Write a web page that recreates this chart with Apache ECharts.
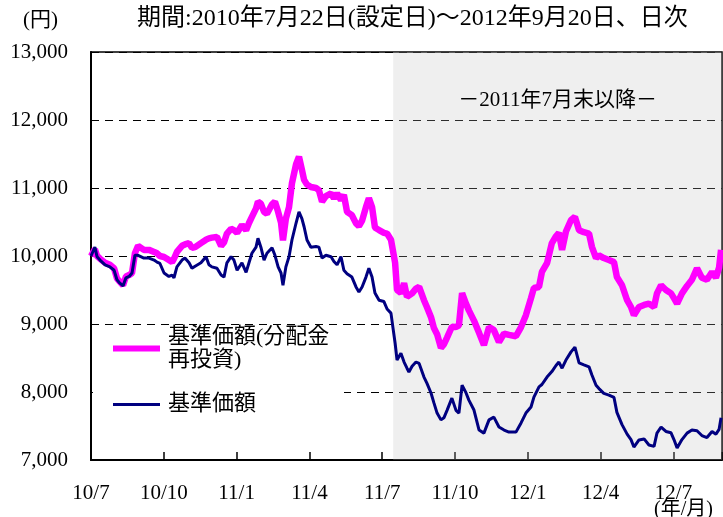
<!DOCTYPE html>
<html>
<head>
	<meta charset="utf-8">
	<title>基準価額の推移</title>
	<style type="text/css">
		html, body { margin: 0; padding: 0; background: #fff; }
		#chart { width: 723px; height: 517px; }
	</style>
</head>
<body>
	<div id="chart"></div>
	<script src="https://cdn.jsdelivr.net/npm/echarts@6.0.0/dist/echarts.min.js"></script>
	<script type="text/javascript">
	// months since 2010-07-22 (設定日)
	const MONTHS = [0, 0.16, 0.25, 0.37, 0.58, 0.78, 0.95, 1.07, 1.19, 1.32, 1.44, 1.57, 1.69, 1.81, 1.94, 2.18, 2.39, 2.60, 2.72, 2.84,
		3.01, 3.21, 3.34, 3.42, 3.54, 3.75, 3.87, 4.04, 4.16, 4.29, 4.37, 4.53, 4.74, 4.86, 4.98, 5.19, 5.36, 5.48, 5.60, 5.77,
		5.89, 6.02, 6.22, 6.39, 6.51, 6.63, 6.80, 6.88, 7.00, 7.13, 7.25, 7.46, 7.58, 7.71, 7.83, 7.91, 8.03, 8.16, 8.28, 8.45,
		8.57, 8.69, 8.78, 8.90, 9.06, 9.27, 9.39, 9.52, 9.68, 9.89, 10.01, 10.14, 10.30, 10.42, 10.55, 10.75, 10.92, 11.04, 11.17, 11.33,
		11.45, 11.58, 11.70, 11.87, 12.07, 12.20, 12.36, 12.44, 12.53, 12.61, 12.77, 12.90, 13.02, 13.10, 13.23, 13.39, 13.52, 13.72, 13.84, 14.01,
		14.13, 14.26, 14.42, 14.54, 14.67, 14.87, 15.04, 15.16, 15.29, 15.45, 15.57, 15.78, 15.99, 16.19, 16.40, 16.60, 16.81, 17.02, 17.22, 17.51,
		17.72, 17.92, 18.13, 18.25, 18.46, 18.58, 18.79, 18.99, 19.16, 19.28, 19.41, 19.57, 19.78, 19.94, 20.11, 20.31, 20.52, 20.64, 20.81, 20.93,
		21.13, 21.34, 21.55, 21.67, 21.88, 22.09, 22.25, 22.37, 22.58, 22.79, 22.99, 23.20, 23.32, 23.49, 23.69, 23.90, 24.02, 24.15, 24.35, 24.56,
		24.76, 24.97, 25.17, 25.38, 25.59, 25.75, 25.88, 25.96];

	// 基準価額(分配金再投資)
	const NAV_REINVESTED = [10000, 10100, 10000, 9960, 9900, 9870, 9820, 9670, 9620, 9570, 9700, 9720, 9750, 10040, 10150, 10090, 10090, 10060, 10040, 10000,
		9985, 9940, 9910, 9960, 10060, 10150, 10170, 10190, 10120, 10130, 10150, 10190, 10240, 10260, 10270, 10280, 10150, 10200, 10330, 10400,
		10380, 10340, 10455, 10380, 10485, 10575, 10700, 10800, 10770, 10650, 10620, 10760, 10800, 10650, 10490, 10230, 10550, 10720, 11070, 11350,
		11460, 11270, 11120, 11050, 11015, 11000, 10970, 10800, 10880, 10920, 10850, 10920, 10820, 10900, 10650, 10600, 10480, 10440, 10520, 10720,
		10850, 10720, 10420, 10380, 10340, 10330, 10240, 10220, 9900, 9500, 9455, 9600, 9400, 9380, 9450, 9520, 9545, 9350, 9250, 9100,
		8940, 8850, 8650, 8700, 8800, 8960, 8955, 8980, 9455, 9300, 9200, 9050, 8870, 8690, 8955, 8910, 8735, 8860, 8840, 8820,
		8955, 9130, 9380, 9530, 9545, 9765, 9895, 10190, 10290, 10340, 10090, 10360, 10530, 10575, 10380, 10350, 10330, 10135, 9970, 10010,
		9970, 9940, 9910, 9690, 9570, 9350, 9250, 9130, 9250, 9280, 9300, 9250, 9450, 9570, 9500, 9450, 9380, 9300, 9450, 9560,
		9650, 9820, 9680, 9650, 9765, 9680, 9830, 10090];

	// 基準価額
	const NAV = [10000, 10130, 9990, 9940, 9870, 9840, 9790, 9650, 9600, 9560, 9680, 9700, 9750, 10010, 10010, 9970, 9970, 9940, 9910, 9890,
		9750, 9700, 9720, 9680, 9840, 9940, 9970, 9900, 9820, 9850, 9840, 9900, 9990, 9870, 9840, 9820, 9720, 9690, 9900, 9990,
		9940, 9790, 9900, 9760, 9900, 10040, 10130, 10260, 10130, 9940, 10040, 10120, 10010, 9840, 9750, 9570, 9840, 9990, 10235, 10485,
		10650, 10550, 10430, 10235, 10130, 10140, 10130, 9970, 10010, 9990, 9920, 9870, 9990, 9790, 9740, 9690, 9545, 9470, 9545, 9690,
		9820, 9690, 9455, 9350, 9330, 9220, 9160, 8950, 8720, 8470, 8570, 8440, 8350, 8295, 8380, 8440, 8420, 8220, 8130, 7985,
		7840, 7690, 7590, 7620, 7730, 7910, 7730, 7690, 8100, 7990, 7880, 7735, 7440, 7395, 7590, 7630, 7485, 7440, 7410, 7410,
		7545, 7690, 7780, 7925, 8075, 8110, 8220, 8300, 8390, 8440, 8350, 8470, 8590, 8660, 8430, 8400, 8370, 8250, 8100, 8050,
		7980, 7955, 7920, 7700, 7520, 7380, 7300, 7190, 7295, 7310, 7220, 7200, 7395, 7485, 7420, 7400, 7300, 7175, 7300, 7395,
		7440, 7430, 7360, 7330, 7420, 7380, 7450, 7620];

	const X_LABELS = ['10/7', '10/10', '11/1', '11/4', '11/7', '11/10', '12/1', '12/4', '12/7'];
	const SHADE_FROM = 12.45; // 2011年7月末
	const SHADE_TO = 26;

	const TXT = {
		TITLE: '期間:2010年7月22日(設定日)～2012年9月20日、日次',
		REINVESTED: '基準価額(分配金再投資)',
		NAV: '基準価額',
		SHADE: '－2011年7月末以降－',
		YEN: '(円)',
		YM: '(年/月)'
	};

	const FONT = "'Liberation Serif', 'Noto Sans CJK JP', serif";

	var myChart = echarts.init(document.getElementById('chart'));

	var option = {
		animation: false,
		textStyle: { fontFamily: FONT, color: '#000' },
		title: {
			text: TXT.TITLE,
			left: 137,
			top: 7,
			padding: 0,
			textStyle: { fontFamily: FONT, fontSize: 24, fontWeight: 'normal', color: '#000' }
		},
		legend: [
			{
				data: [TXT.REINVESTED],
				left: 113,
				top: 314,
				padding: 0,
				icon: 'rect',
				itemWidth: 47,
				itemHeight: 6,
				formatter: () => '基準価額(分配金\n再投資)',
				textStyle: { fontFamily: FONT, fontSize: 22, lineHeight: 23, color: '#000', padding: [23, 0, 0, 3] }
			},
			{
				data: [TXT.NAV],
				left: 93,
				top: 385,
				padding: [8, 88, 5, 20],
				backgroundColor: '#fff',
				icon: 'rect',
				itemWidth: 47,
				itemHeight: 3,
				textStyle: { fontFamily: FONT, fontSize: 22, lineHeight: 23, color: '#000', padding: [0, 0, 0, 3] }
			}
		],
		grid: {
			left: 91,
			right: 1,
			top: 52,
			bottom: 57,
			show: true,
			borderColor: '#000',
			borderWidth: 1.5,
			outerBoundsMode: 'none'
		},
		xAxis: {
			type: 'value',
			min: 0,
			max: 26,
			interval: 3,
			name: TXT.YM,
			nameLocation: 'end',
			nameGap: -68,
			nameMoveOverlap: false,
			nameTextStyle: { fontFamily: FONT, fontSize: 20, color: '#000', align: 'left', verticalAlign: 'top', padding: [40, 0, 0, 0] },
			axisLine: { lineStyle: { color: '#000', width: 2 } },
			axisTick: { inside: true, length: 8, lineStyle: { color: '#000', width: 1.5 } },
			splitLine: { show: false },
			axisLabel: {
				fontFamily: FONT,
				fontSize: 21,
				color: '#000',
				margin: 23,
				formatter: function (v) {
					if (v % 3 !== 0) return '';
					return X_LABELS[v / 3] || '';
				}
			}
		},
		yAxis: {
			type: 'value',
			min: 7000,
			max: 13000,
			interval: 1000,
			name: TXT.YEN,
			nameLocation: 'end',
			nameGap: 32,
			nameTextStyle: { fontFamily: FONT, fontSize: 21, color: '#000', align: 'right', verticalAlign: 'middle', padding: [0, 33, 0, 0] },
			axisLine: { show: true, lineStyle: { color: '#000', width: 2 } },
			axisTick: { show: false },
			axisLabel: { fontFamily: FONT, fontSize: 21, color: '#000', margin: 23 },
			splitLine: { lineStyle: { color: '#000', width: 1, type: [8, 6] } }
		},
		series: [
			{
				name: 'shade',
				type: 'line',
				data: [],
				z: 1,
				silent: true,
				markArea: {
					silent: true,
					itemStyle: { color: 'rgba(190, 190, 190, 0.24)' },
					label: {
						show: true,
						position: 'insideTop',
						distance: 38,
						fontFamily: FONT,
						fontSize: 21,
						color: '#000'
					},
					data: [[{ name: TXT.SHADE, xAxis: SHADE_FROM }, { xAxis: SHADE_TO }]]
				}
			},
			{
				name: TXT.REINVESTED,
				type: 'line',
				z: 3,
				symbol: 'none',
				color: '#ff00ff',
				lineStyle: { color: '#ff00ff', width: 6.5 },
				data: MONTHS.map((m, i) => [m, NAV_REINVESTED[i]])
			},
			{
				name: TXT.NAV,
				type: 'line',
				z: 4,
				symbol: 'none',
				color: '#000080',
				lineStyle: { color: '#000080', width: 3 },
				data: MONTHS.map((m, i) => [m, NAV[i]])
			}
		]
	};

	myChart.setOption(option);
	</script>
</body>
</html>
